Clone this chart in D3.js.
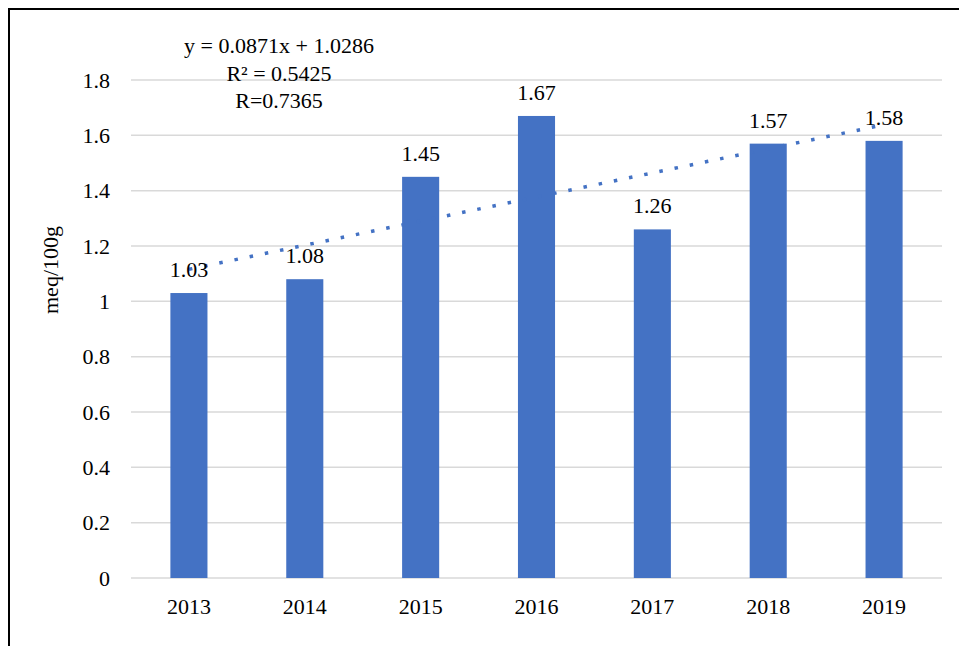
<!DOCTYPE html>
<html>
<head>
<meta charset="utf-8">
<script src="https://cdn.jsdelivr.net/npm/d3@7"></script>
<style>
  html, body { margin: 0; padding: 0; background: #fff; }
  svg { display: block; }
  text { font-family: "Liberation Serif", "Times New Roman", serif; fill: #000; }
</style>
</head>
<body>
<svg id="chart" width="959" height="646"></svg>
<script>
// Yearly values (meq/100g)
const years = ["2013", "2014", "2015", "2016", "2017", "2018", "2019"];
const values = [1.03, 1.08, 1.45, 1.67, 1.26, 1.57, 1.58];
const yTicks = [0, 0.2, 0.4, 0.6, 0.8, 1, 1.2, 1.4, 1.6, 1.8];
// Linear trend fitted on index x = 1..7
const trendSlope = 0.0871;
const trendIntercept = 1.0286;
const trendLabels = ["y = 0.0871x + 1.0286", "R² = 0.5425", "R=0.7365"];
const yTitle = "meq/100g";

const svg = d3.select("#chart");
const W = 959, H = 646;
const plot = { left: 131, right: 942, top: 80, bottom: 578 };
const barColor = "#4472C4";

// Outer frame
svg.append("rect")
  .attr("x", 9).attr("y", 9)
  .attr("width", W + 20).attr("height", H + 20)
  .attr("fill", "#fff")
  .attr("stroke", "#000").attr("stroke-width", 2);

const x = d3.scaleBand().domain(years).range([plot.left, plot.right]).paddingInner(0.68).paddingOuter(0.34);
const y = d3.scaleLinear().domain([0, 1.8]).range([plot.bottom, plot.top]);

// Gridlines
svg.append("g").selectAll("line").data(yTicks).join("line")
  .attr("x1", plot.left).attr("x2", plot.right)
  .attr("y1", d => y(d)).attr("y2", d => y(d))
  .attr("stroke", "#d9d9d9").attr("stroke-width", 1.5);

// Y axis labels
const yAxis = d3.axisLeft(y).tickValues(yTicks).tickSize(0).tickPadding(0)
  .tickFormat(d => String(+d.toFixed(1)));
const gy = svg.append("g").attr("transform", `translate(${plot.left - 21},0)`).call(yAxis);
gy.select(".domain").remove();
gy.selectAll("text").style("font-size", "22px").style("font-family", "Liberation Serif, serif").attr("fill", "#000");

// X axis labels
const xAxis = d3.axisBottom(x).tickSize(0).tickPadding(0);
const gx = svg.append("g").attr("transform", `translate(0,${plot.bottom + 20})`).call(xAxis);
gx.select(".domain").remove();
gx.selectAll("text").style("font-size", "22px").style("font-family", "Liberation Serif, serif").attr("fill", "#000");

// Bars
svg.append("g").selectAll("rect").data(values).join("rect")
  .attr("x", (d, i) => x(years[i]))
  .attr("width", x.bandwidth())
  .attr("y", d => y(d))
  .attr("height", d => y(0) - y(d))
  .attr("fill", barColor);

// Trend line (dotted)
const trendPts = years.map((yr, i) => [x(yr) + x.bandwidth() / 2, y(trendSlope * (i + 1) + trendIntercept)]);
svg.append("path")
  .attr("d", d3.line()(trendPts))
  .attr("fill", "none")
  .attr("stroke", barColor)
  .attr("stroke-width", 3.5)
  .attr("stroke-dasharray", "3.5 12");

// Value labels
svg.append("g").selectAll("text").data(values).join("text")
  .attr("x", (d, i) => x(years[i]) + x.bandwidth() / 2)
  .attr("y", d => y(d) - 16)
  .attr("text-anchor", "middle")
  .style("font-size", "22px")
  .text(d => d.toFixed(2));

// Trend equation
svg.append("g").selectAll("text").data(trendLabels).join("text")
  .attr("x", 279)
  .attr("y", (d, i) => 53 + i * 27.5)
  .attr("text-anchor", "middle")
  .style("font-size", "22px")
  .text(d => d);

// Y axis title
svg.append("text")
  .attr("transform", "translate(58,270) rotate(-90)")
  .attr("text-anchor", "middle")
  .style("font-size", "22px")
  .text(yTitle);
</script>
</body>
</html>
